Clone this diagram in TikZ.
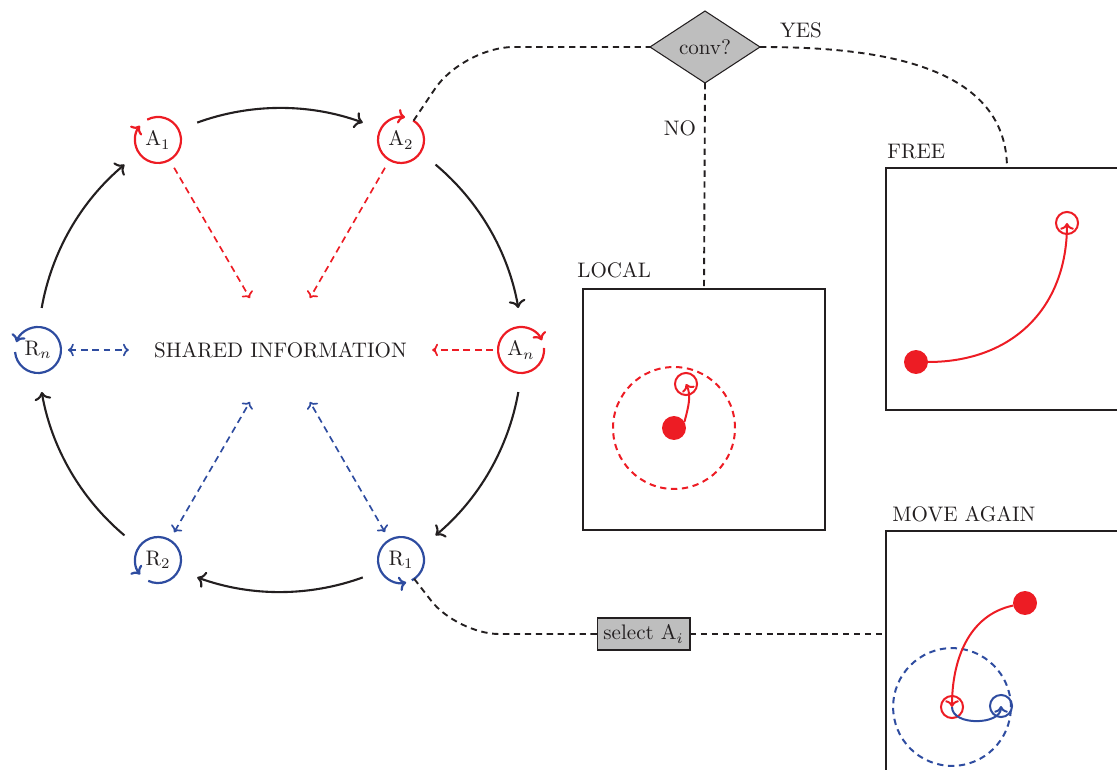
\documentclass[tikz,border=0pt]{standalone}
\usetikzlibrary{shapes.geometric,arrows.meta,calc}
\definecolor{myred}{RGB}{237,28,36}
\definecolor{myblue}{RGB}{46,76,160}
\definecolor{mygray}{RGB}{190,190,190}
\definecolor{ink}{RGB}{35,31,32}
\newcommand\myloopr{10.94pt}
\newcommand\mybigr{115.07pt}
\begin{document}
\begin{tikzpicture}[x=0.4755pt,y=-0.4755pt,
  every node/.style={text=ink},
  agentnode/.style={circle, minimum size=21.9pt, inner sep=0pt, outer sep=0pt},
  aloop/.style={draw=myred, line width=1.05pt, -{To[length=3.4pt,width=7pt]}},
  rloop/.style={draw=myblue, line width=1.05pt, -{To[length=3.4pt,width=7pt]}},
  cyc/.style={draw=ink, line width=1pt, -{To[length=3.8pt,width=8pt]}},
  adash/.style={draw=myred, line width=0.8pt, dash pattern=on 3.2pt off 2.2pt, -{To[length=2.8pt,width=6pt]}},
  rdash/.style={draw=myblue, line width=0.8pt, dash pattern=on 3.2pt off 2.2pt, {To[length=2.8pt,width=6pt]}-{To[length=2.8pt,width=6pt]}},
  conn/.style={draw=ink, line width=0.9pt, dash pattern=on 3pt off 2.2pt},
  convbox/.style={shape=diamond, draw=ink, fill=mygray, line width=0.5pt, minimum width=52.3pt, minimum height=34.2pt, inner sep=0pt, outer sep=0pt},
  selbox/.style={rectangle, draw=ink, fill=mygray, line width=0.5pt, minimum width=44.2pt, minimum height=15.2pt, inner sep=1pt, outer sep=0pt},
  panel/.style={rectangle, draw=ink, line width=0.95pt, minimum width=115.07pt, minimum height=114.6pt, inner sep=0pt, outer sep=0pt},
  dotnode/.style={circle, fill=myred, minimum size=11.4pt, inner sep=0pt, outer sep=0pt},
  ringnode/.style={circle, draw=#1, line width=0.95pt, minimum size=10.5pt, inner sep=0pt, outer sep=0pt},
  curvearrow/.style={draw=#1, line width=0.95pt, -{To[length=3.2pt,width=6.5pt]}}
]
\useasboundingbox (0,0) rectangle (1117,770);

% cycle nodes
\coordinate (c) at (280,350);
\node[agentnode] (A1) at (158,140) {A$_1$};
\node[agentnode] (A2) at (401,140) {A$_2$};
\node[agentnode] (An) at (521,350) {A$_n$};
\node[agentnode] (R1) at (401,560) {R$_1$};
\node[agentnode] (R2) at (158,560) {R$_2$};
\node[agentnode] (Rn) at (38,350) {R$_n$};
\node (info) at (280.5,350) {SHARED INFORMATION};

% self loops
\draw[aloop] (A1.118) arc[start angle=118, end angle=-218, radius=\myloopr];
\draw[aloop] (A2.58) arc[start angle=58, end angle=-280, radius=\myloopr];
\draw[aloop] (An.5) arc[start angle=5, end angle=-335, radius=\myloopr];
\draw[rloop] (Rn.185) arc[start angle=185, end angle=520, radius=\myloopr];
\draw[rloop] (R2.245) arc[start angle=245, end angle=579, radius=\myloopr];
\draw[rloop] (R1.298) arc[start angle=298, end angle=643, radius=\myloopr];

% cycle arrows (arcs of the circle through the nodes, centred on c)
\draw[cyc] ([shift={(110:\mybigr)}]c) arc[start angle=110, end angle=70, radius=\mybigr];
\draw[cyc] ([shift={(50:\mybigr)}]c) arc[start angle=50, end angle=10, radius=\mybigr];
\draw[cyc] ([shift={(-10:\mybigr)}]c) arc[start angle=-10, end angle=-50, radius=\mybigr];
\draw[cyc] ([shift={(-70:\mybigr)}]c) arc[start angle=-70, end angle=-110, radius=\mybigr];
\draw[cyc] ([shift={(-130:\mybigr)}]c) arc[start angle=-130, end angle=-170, radius=\mybigr];
\draw[cyc] ([shift={(170:\mybigr)}]c) arc[start angle=170, end angle=130, radius=\mybigr];

% shared information arrows
\draw[adash, shorten <=4.3pt, shorten >=28.5pt] (A1) -- (c);
\draw[adash, shorten <=4.3pt, shorten >=28.5pt] (A2) -- (c);
\draw[adash, shorten <=2.4pt, shorten >=8.5pt] (An) -- (info.east);
\draw[rdash, shorten <=3.3pt, shorten >=8.5pt] (Rn) -- (info.west);
\draw[rdash, shorten <=4.3pt, shorten >=28.5pt] (R2) -- (c);
\draw[rdash, shorten <=4.3pt, shorten >=28.5pt] (R1) -- (c);

% decision
\node[convbox] (conv) at (705,47) {conv?};
\node (yes) at (801,30) {YES};
\node (no) at (680,128) {NO};

% panels
\node[panel] (local) at (704,409.5) {};
\node[anchor=base west, inner sep=0pt] (locallbl) at (577,278) {LOCAL};
\node[panel] (free) at (1007,289) {};
\node[anchor=base west, inner sep=0pt] (freelbl) at (887,159) {FREE};
\node[panel] (move) at (1007,652) {};
\node[anchor=base west, inner sep=0pt] (movelbl) at (892,521) {MOVE AGAIN};

\node[selbox] (sel) at (643.5,634) {select A$_i$};

% dashed connectors
\draw[conn, rounded corners=24pt] (A2.57) -- (463,47) -- (conv.west);
\draw[conn] (conv.east) to[out=0, in=90] (free.north);
\draw[conn] (conv.south) -- (local.north);
\draw[conn, rounded corners=20pt] (R1.-55) -- (457,634) -- (sel.west);
\draw[conn] (sel.east) -- (sel.east -| move.west);

% LOCAL content
\draw[myred, line width=0.95pt, dash pattern=on 3pt off 2.2pt] (674,428) circle[radius=29pt];
\node[dotnode] (Ld) at (674,428) {};
\node[ringnode=myred] (Lc) at (686,384) {};
\draw[curvearrow=myred] (Ld.30) .. controls +(75:8pt) and +(-65:6pt) .. (Lc.center);

% FREE content
\node[dotnode] (Fd) at (916,362) {};
\node[ringnode=myred] (Fc) at (1067,223) {};
\draw[curvearrow=myred] (Fd) to[out=0, in=-90, looseness=1.1] (Fc.center);

% MOVE AGAIN content
\draw[myblue, line width=0.95pt, dash pattern=on 3pt off 2.2pt] (952,707) circle[radius=28pt];
\node[dotnode] (Md) at (1025,603) {};
\node[ringnode=myred] (Mr) at (952,707) {};
\node[ringnode=myblue] (Mb) at (1001,706) {};
\draw[curvearrow=myred] (Md) to[out=192, in=90] (Mr.center);
\draw[curvearrow=myblue] (Mr.center) to[out=-90, in=-90] (Mb.center);
\end{tikzpicture}
\end{document}
